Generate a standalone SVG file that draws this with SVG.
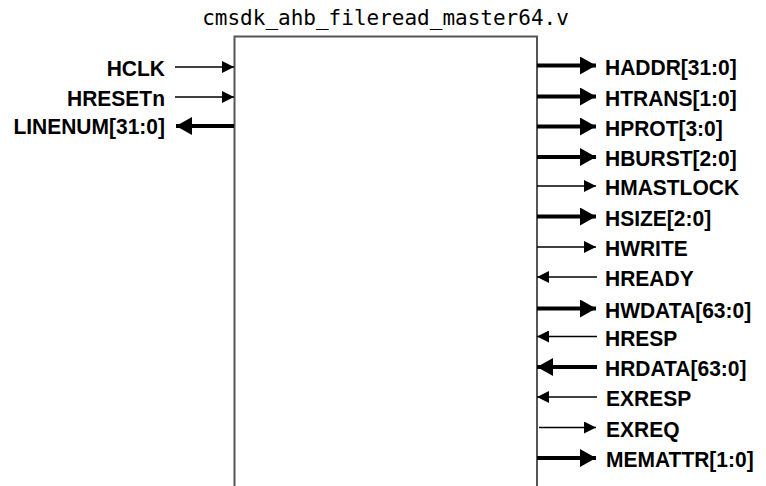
<svg xmlns="http://www.w3.org/2000/svg" width="766" height="486" viewBox="0 0 766 486">
<style>
.lbl{font-family:"Liberation Sans",Arial,sans-serif;font-weight:bold;font-size:21px;fill:#000}
.r{text-anchor:end}
.title{font-family:"DejaVu Sans Mono",monospace;font-size:21px;fill:#000;text-anchor:middle}
.thin{stroke:#000;stroke-width:1.3;fill:none;marker-end:url(#ah)}
.thick{stroke:#000;stroke-width:4;fill:none;marker-end:url(#ahb)}
.box{fill:none;stroke:#555;stroke-width:2}
</style>
<defs>
<marker id="ah" viewBox="0 0 12 12" refX="12" refY="6" markerWidth="12" markerHeight="12" markerUnits="userSpaceOnUse" orient="auto"><path d="M0,0 L12,6 L0,12 z" fill="#000"/></marker>
<marker id="ahb" viewBox="0 0 16 18" refX="16" refY="9" markerWidth="16" markerHeight="18" markerUnits="userSpaceOnUse" orient="auto"><path d="M0,0 L16,9 L0,18 z" fill="#000"/></marker>
</defs>
<rect width="766" height="486" fill="#fff"/>
<g id="module">
<path class="box" d="M234.5,486 V36.5 H537 V486"/>
<text class="title" x="385.5" y="25">cmsdk_ahb_fileread_master64.v</text>
</g>
<g id="connectors">
<line class="thin" x1="175" y1="67" x2="234" y2="67"/>
<line class="thin" x1="175" y1="97" x2="234" y2="97"/>
<line class="thick" x1="234" y1="126" x2="176" y2="126"/>
<line class="thick" x1="537" y1="65.5" x2="596" y2="65.5"/>
<line class="thick" x1="537" y1="96.5" x2="596" y2="96.5"/>
<line class="thick" x1="537" y1="126.5" x2="596" y2="126.5"/>
<line class="thick" x1="537" y1="157" x2="596" y2="157"/>
<line class="thin" x1="537" y1="186" x2="596" y2="186"/>
<line class="thick" x1="537" y1="216.5" x2="596" y2="216.5"/>
<line class="thin" x1="537" y1="247" x2="596" y2="247"/>
<line class="thin" x1="597" y1="277" x2="537" y2="277"/>
<line class="thick" x1="537" y1="308.5" x2="596" y2="308.5"/>
<line class="thin" x1="597" y1="336.5" x2="537" y2="336.5"/>
<line class="thick" x1="597" y1="367" x2="537" y2="367"/>
<line class="thin" x1="597" y1="397" x2="537" y2="397"/>
<line class="thin" x1="539" y1="427.5" x2="596" y2="427.5"/>
<line class="thick" x1="537" y1="458" x2="596" y2="458"/>
</g>
<g id="HCLK"><text class="lbl r" transform="translate(165,75.5) scale(1,1.09)">HCLK</text></g>
<g id="HRESETn"><text class="lbl r" transform="translate(165,105.5) scale(1,1.09)">HRESETn</text></g>
<g id="LINENUM"><text class="lbl r" transform="translate(165,134) scale(1,1.09)">LINENUM[31:0]</text></g>
<g id="HADDR"><text class="lbl" transform="translate(605,74.5) scale(1,1.09)">HADDR[31:0]</text></g>
<g id="HTRANS"><text class="lbl" transform="translate(605,105.5) scale(1,1.09)">HTRANS[1:0]</text></g>
<g id="HPROT"><text class="lbl" transform="translate(605,135.5) scale(1,1.09)">HPROT[3:0]</text></g>
<g id="HBURST"><text class="lbl" transform="translate(605,166) scale(1,1.09)">HBURST[2:0]</text></g>
<g id="HMASTLOCK"><text class="lbl" transform="translate(605,195) scale(1,1.09)">HMASTLOCK</text></g>
<g id="HSIZE"><text class="lbl" transform="translate(605,225.5) scale(1,1.09)">HSIZE[2:0]</text></g>
<g id="HWRITE"><text class="lbl" transform="translate(605,256) scale(1,1.09)">HWRITE</text></g>
<g id="HREADY"><text class="lbl" transform="translate(605,286) scale(1,1.09)">HREADY</text></g>
<g id="HWDATA"><text class="lbl" transform="translate(605,317.5) scale(1,1.09)">HWDATA[63:0]</text></g>
<g id="HRESP"><text class="lbl" transform="translate(605,345.5) scale(1,1.09)">HRESP</text></g>
<g id="HRDATA"><text class="lbl" transform="translate(605,376) scale(1,1.09)">HRDATA[63:0]</text></g>
<g id="EXRESP"><text class="lbl" transform="translate(606,406) scale(1,1.09)">EXRESP</text></g>
<g id="EXREQ"><text class="lbl" transform="translate(606,436.5) scale(1,1.09)">EXREQ</text></g>
<g id="MEMATTR"><text class="lbl" transform="translate(606,467) scale(1,1.09)">MEMATTR[1:0]</text></g>
</svg>
